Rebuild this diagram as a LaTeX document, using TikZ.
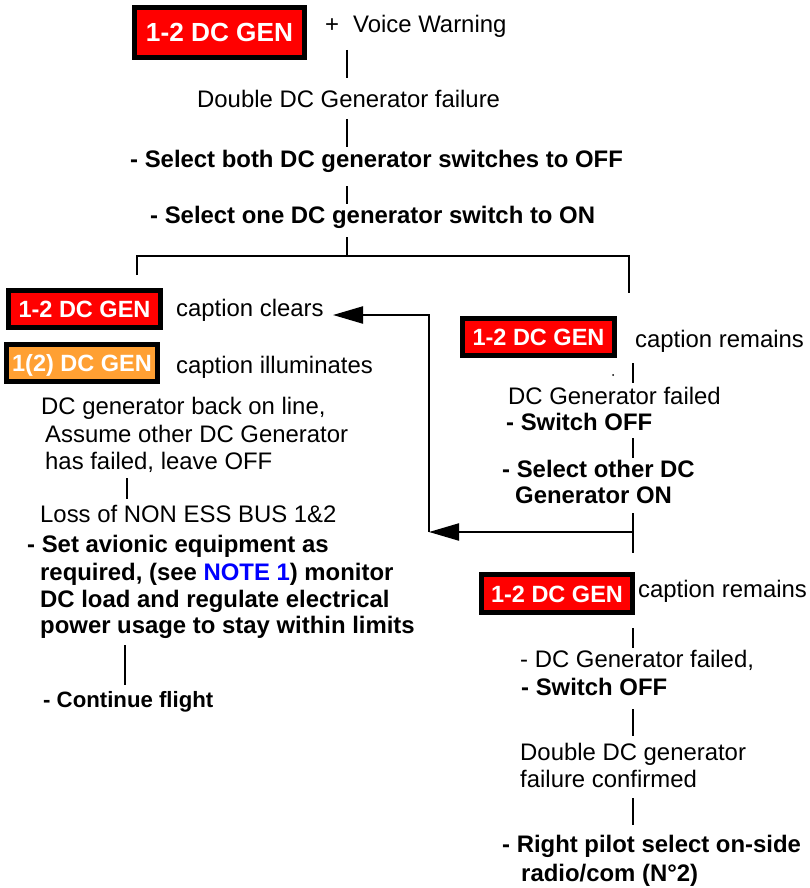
\documentclass[tikz,border=0pt]{standalone}
\usepackage{fontspec}
\setmainfont{Liberation Sans}
\usetikzlibrary{arrows.meta}
\definecolor{capred}{RGB}{255,0,0}
\definecolor{capamber}{RGB}{255,160,51}
\definecolor{noteblue}{RGB}{0,0,255}
\newcommand\bodysize{\fontsize{23.9}{28}\selectfont}
\begin{document}
\begin{tikzpicture}[x=1pt, y=-1pt,
  txt/.style={anchor=base west, inner sep=0pt, font=\bodysize},
  btxt/.style={anchor=base west, inner sep=0pt, font=\bodysize\bfseries},
  lamp/.style={draw=black, line width=5pt, inner sep=0pt, text=white,
    text height=17pt, text depth=0pt, font=\fontsize{23.5}{28}\selectfont\bfseries},
  link/.style={line width=2.2pt},
  flow/.style={line width=2.2pt, -{Triangle[length=30pt,width=17pt]}}]

\fill[white] (0,0) rectangle (810,888);
\useasboundingbox (0,0) rectangle (810,888);

% ---- common trunk ----
\node[lamp, fill=capred, minimum width=170pt, minimum height=50pt, text height=19pt,
      font=\fontsize{26.2}{30}\selectfont\bfseries] (alarm) at (219.5,32.5) {1-2 DC GEN};
\node[txt] (plus) at (325,33) {+};
\node[txt] (voice) at (353,33) {Voice Warning};
\node[txt] (double) at (197,108) {Double DC Generator failure};
\node[btxt] (bothoff) at (130,167) {- Select both DC generator switches to OFF};
\node[btxt] (oneon) at (150,223) {- Select one DC generator switch to ON};

\coordinate (t1a) at (347,50);  \coordinate (t1b) at (347,78);
\coordinate (t2a) at (347,119); \coordinate (t2b) at (347,147);
\coordinate (t3a) at (347,186); \coordinate (t3b) at (347,204);
\coordinate (t4a) at (347,237); \coordinate (t4b) at (347,256);
\coordinate (splitL) at (137,256); \coordinate (splitR) at (629,256);
\coordinate (dropL) at (137,275);  \coordinate (dropR) at (629,293);

\draw[link] (t1a) -- (t1b);
\draw[link] (t2a) -- (t2b);
\draw[link] (t3a) -- (t3b);
\draw[link] (t4a) -- (t4b);
\draw[link] (dropL) -- (splitL) -- (splitR) -- (dropR);

% ---- left branch: generator recovered ----
\node[lamp, fill=capred, minimum width=152pt, minimum height=37pt] (clears) at (84.5,309) {1-2 DC GEN};
\node[txt] (clearstxt) at (176,316) {caption clears};
\node[lamp, fill=capamber, minimum width=151pt, minimum height=37pt] (amber) at (82,363) {1(2) DC GEN};
\node[txt] (illum) at (176,373) {caption illuminates};
\node[txt] (back1) at (41,414) {DC generator back on line,};
\node[txt] (back2) at (45,442) {Assume other DC Generator};
\node[txt] (back3) at (45,469) {has failed, leave OFF};
\node[txt] (loss) at (40,522) {Loss of NON ESS BUS 1\&2};
\node[btxt] (set1) at (27,552) {- Set avionic equipment as};
\node[btxt] (set2) at (40,580) {required, (see \textcolor{noteblue}{NOTE 1}) monitor};
\node[btxt] (set3) at (40,607) {DC load and regulate electrical};
\node[btxt] (set4) at (40,633) {power usage to stay within limits};
\node[btxt, font=\fontsize{22.2}{26}\selectfont\bfseries] (cont) at (43,707) {- Continue flight};

\coordinate (l1a) at (127,478); \coordinate (l1b) at (127,499);
\coordinate (l2a) at (125,645); \coordinate (l2b) at (125,685);
\draw[link] (l1a) -- (l1b);
\draw[link] (l2a) -- (l2b);

% ---- right branch: caption remains ----
\node[lamp, fill=capred, minimum width=152pt, minimum height=37pt] (remains) at (538.5,337) {1-2 DC GEN};
\node[txt] (remtxt) at (635,347) {caption remains};
\fill (613,375) circle (1pt);
\node[txt] (failed) at (508,404) {DC Generator failed};
\node[btxt] (swoff) at (506,430) {- Switch OFF};
\node[btxt] (other1) at (502,477) {- Select other DC};
\node[btxt] (other2) at (515,503) {Generator ON};

\node[lamp, fill=capred, minimum width=151pt, minimum height=38pt] (remains2) at (557,593.5) {1-2 DC GEN};
\node[txt] (rem2txt) at (638,597) {caption remains};
\node[txt] (failed2) at (520,667) {- DC Generator failed,};
\node[btxt] (swoff2) at (521,695) {- Switch OFF};
\node[txt] (conf1) at (520,760) {Double DC generator};
\node[txt] (conf2) at (520,787) {failure confirmed};
\node[btxt] (pilot1) at (502,852) {- Right pilot select on-side};
\node[btxt] (pilot2) at (521,881) {radio/com (N°2)};

\coordinate (r1a) at (633,363); \coordinate (r1b) at (633,383);
\coordinate (r2a) at (633,438); \coordinate (r2b) at (633,458);
\coordinate (r3a) at (633,513); \coordinate (r3m) at (633,532); \coordinate (r3b) at (633,553);
\coordinate (r4a) at (633,628); \coordinate (r4b) at (633,648);
\coordinate (r5a) at (633,709); \coordinate (r5b) at (633,736);
\coordinate (r6a) at (633,798); \coordinate (r6b) at (633,825);
\draw[link] (r1a) -- (r1b);
\draw[link] (r2a) -- (r2b);
\draw[link] (r3a) -- (r3b);
\draw[link] (r4a) -- (r4b);
\draw[link] (r5a) -- (r5b);
\draw[link] (r6a) -- (r6b);

% ---- return path to the recovered branch ----
\coordinate (ret) at (429,532);
\coordinate (retup) at (429,315);
\coordinate (clearsin) at (333,315);
\draw[flow] (r3m) -- (ret);
\draw[flow] (ret) -- (retup) -- (clearsin);

\end{tikzpicture}
\end{document}
